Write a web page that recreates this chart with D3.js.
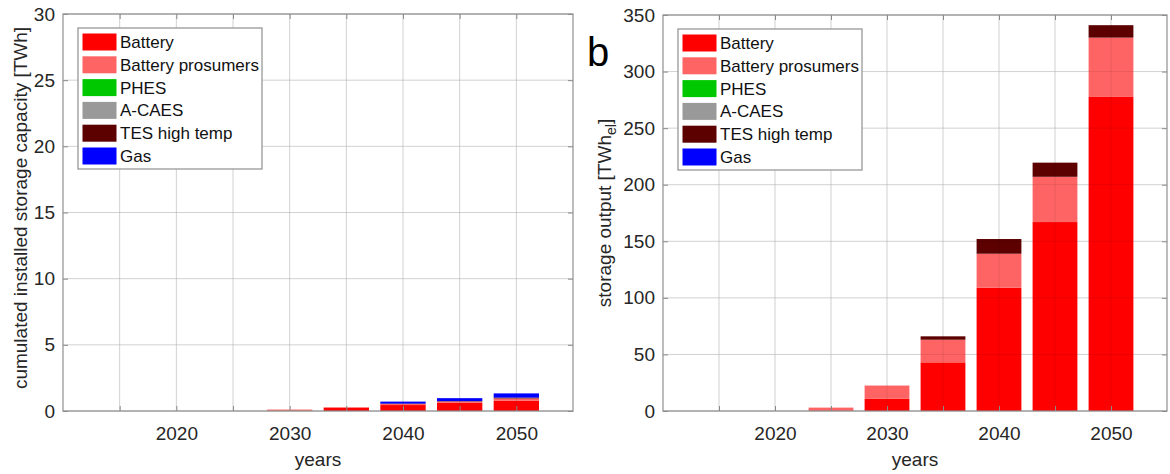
<!DOCTYPE html>
<html>
<head>
<meta charset="utf-8">
<script src="https://cdn.jsdelivr.net/npm/d3@7"></script>
<style>
  html, body { margin: 0; padding: 0; background: #fff; }
  svg { display: block; font-family: "Liberation Sans", Arial, sans-serif; }
  .tick text { fill: #262626; font-size: 19px; }
  .lab { fill: #262626; font-size: 19px; }
  .leg text { fill: #111; font-size: 17px; }
</style>
</head>
<body>
<svg id="chart" width="1170" height="474"></svg>
<script>
// categories
var years = [2015, 2020, 2025, 2030, 2035, 2040, 2045, 2050];
var techs = ["Battery", "Battery prosumers", "PHES", "A-CAES", "TES high temp", "Gas"];
var techColors = ["#ff0000", "#ff6464", "#00c800", "#999999", "#5c0000", "#0000ff"];

// panel a: cumulated installed storage capacity [TWh]
var capBattery   = [0, 0, 0, 0.03, 0.25, 0.45, 0.62, 0.78];
var capProsumers = [0, 0, 0, 0.08, 0.04, 0.08, 0.10, 0.17];
var capPHES      = [0, 0, 0, 0, 0, 0, 0, 0];
var capACAES     = [0, 0, 0, 0, 0, 0, 0, 0];
var capTES       = [0, 0, 0, 0, 0, 0.03, 0.03, 0.06];
var capGas       = [0, 0, 0, 0, 0, 0.15, 0.22, 0.32];

// panel b: storage output [TWh_el]
var outBattery   = [0, 0, 0.5, 11, 43, 109, 167, 278];
var outProsumers = [0, 0, 2.5, 11.5, 20, 30, 40, 52];
var outPHES      = [0, 0, 0, 0, 0, 0, 0, 0];
var outACAES     = [0, 0, 0, 0, 0, 0, 0, 0];
var outTES       = [0, 0, 0, 0, 3, 13, 12.5, 11];
var outGas       = [0, 0, 0, 0, 0, 0, 0, 0];

var capTicks = [0, 5, 10, 15, 20, 25, 30];
var outTicks = [0, 50, 100, 150, 200, 250, 300, 350];
var yearTicks = [2015, 2020, 2025, 2030, 2035, 2040, 2045, 2050];

function rows(series) {
  return years.map(function (y, i) {
    var r = { year: y };
    techs.forEach(function (t, k) { r[t] = series[k][i]; });
    return r;
  });
}

var svg = d3.select("#chart");

function panel(o) {
  var W = o.x1 - o.x0, H = o.y1 - o.y0;
  var g = svg.append("g").attr("transform", "translate(" + o.x0 + "," + o.y0 + ")");
  var x = d3.scaleLinear().domain([2010, 2055]).range([0, W]);
  var y = d3.scaleLinear().domain([0, o.ymax]).range([H, 0]);

  // background grid
  var grid = g.append("g").attr("stroke", "#e6e6e6").attr("stroke-width", 1);
  yearTicks.forEach(function (t) { grid.append("line").attr("x1", x(t)).attr("x2", x(t)).attr("y1", 0).attr("y2", H); });
  o.yticks.forEach(function (t) { grid.append("line").attr("x1", 0).attr("x2", W).attr("y1", y(t)).attr("y2", y(t)); });

  // stacked bars
  var stack = d3.stack().keys(techs)(rows(o.series));
  stack.forEach(function (layer, k) {
    g.append("g").attr("fill", techColors[k]).selectAll("rect").data(layer).join("rect")
      .attr("x", function (d) { return x(d.data.year - 2); })
      .attr("width", function (d) { return x(d.data.year + 2) - x(d.data.year - 2); })
      .attr("y", function (d) { return y(d[1]); })
      .attr("height", function (d) { return Math.max(0, y(d[0]) - y(d[1])); });
  });

  // grid drawn over the bars (faint)
  var og = g.append("g").attr("stroke", "#000").attr("stroke-opacity", 0.09).attr("stroke-width", 1);
  yearTicks.forEach(function (t) { og.append("line").attr("x1", x(t)).attr("x2", x(t)).attr("y1", 0).attr("y2", H); });
  o.yticks.forEach(function (t) { og.append("line").attr("x1", 0).attr("x2", W).attr("y1", y(t)).attr("y2", y(t)); });

  // axes (inward ticks)
  var xa = g.append("g").attr("transform", "translate(0," + H + ")")
    .call(d3.axisBottom(x).tickValues(yearTicks).tickSize(-5).tickPadding(16)
      .tickFormat(function (d) { return d % 10 === 0 ? d : ""; }));
  g.append("g")
    .call(d3.axisLeft(y).tickValues(o.yticks).tickSize(-5).tickPadding(8));
  g.append("g").call(d3.axisTop(x).tickValues(yearTicks).tickSize(-5).tickFormat(""));
  g.append("g").attr("transform", "translate(" + W + ",0)")
    .call(d3.axisRight(y).tickValues(o.yticks).tickSize(-5).tickFormat(""));
  g.selectAll(".domain").remove();
  g.selectAll(".tick line").attr("stroke", "#8a8a8a");
  xa.selectAll("text").attr("dy", "0.71em");

  // frame
  g.append("rect").attr("x", 0).attr("y", 0).attr("width", W).attr("height", H)
    .attr("fill", "none").attr("stroke", "#8f8f8f").attr("stroke-width", 1.2);

  // axis titles
  g.append("text").attr("class", "lab").attr("text-anchor", "middle")
    .attr("x", o.xlabX - o.x0).attr("y", 466 - o.y0).text("years");
  var yl = g.append("text").attr("class", "lab").attr("text-anchor", "middle")
    .attr("transform", "translate(" + (o.ylabX - o.x0) + "," + (o.ylabY - o.y0) + ") rotate(-90)");
  yl.append("tspan").text(o.ylabel);
  if (o.ysub) {
    yl.append("tspan").attr("font-size", "14px").attr("dy", 5).text(o.ysub);
    yl.append("tspan").attr("dy", -5).text("]");
  }

  // legend
  var leg = g.append("g").attr("class", "leg").attr("transform", "translate(" + o.legX + "," + o.legY + ")");
  leg.append("rect").attr("width", 184).attr("height", 141).attr("fill", "#fff")
    .attr("stroke", "#8f8f8f").attr("stroke-width", 1.2);
  techs.forEach(function (t, k) {
    var cy = 14 + k * 22.8;
    leg.append("rect").attr("x", 4.5).attr("y", cy - 8.5).attr("width", 34).attr("height", 17)
      .attr("fill", techColors[k]);
    leg.append("text").attr("x", 42).attr("y", cy + 6).attr("textLength", k === 1 ? 139 : null).text(t);
  });
}

panel({ x0: 63, x1: 573, y0: 14, y1: 411, ymax: 30, yticks: capTicks,
  series: [capBattery, capProsumers, capPHES, capACAES, capTES, capGas],
  ylabel: "cumulated installed storage capacity [TWh]", ylabX: 27, ylabY: 208,
  xlabX: 318, legX: 15, legY: 14 });

panel({ x0: 663, x1: 1167, y0: 15, y1: 411, ymax: 350, yticks: outTicks,
  series: [outBattery, outProsumers, outPHES, outACAES, outTES, outGas],
  ylabel: "storage output [TWh", ysub: "el", ylabX: 611, ylabY: 213,
  xlabX: 915, legX: 15, legY: 14 });

// panel letter
svg.append("text").attr("x", 587).attr("y", 66).attr("font-size", "40px").attr("fill", "#000").text("b");
</script>
</body>
</html>
